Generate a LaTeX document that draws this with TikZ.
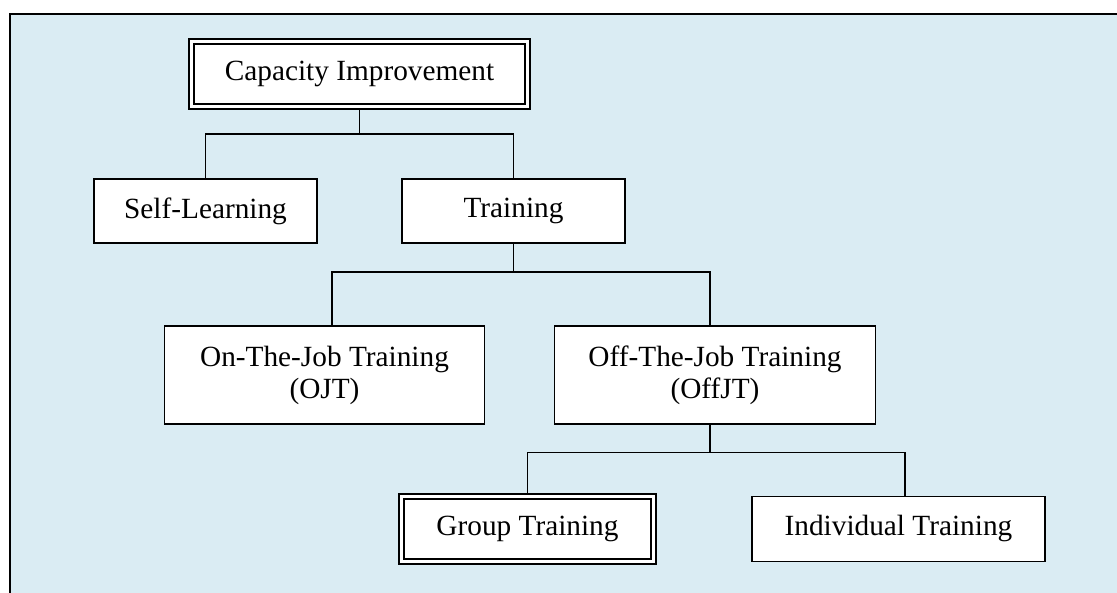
\documentclass[tikz,border=0pt]{standalone}
\usepackage{fontspec}
\setmainfont{Liberation Serif}
\usepackage{tikz}
\usetikzlibrary{positioning}
\definecolor{framebg}{RGB}{218,236,243}

\begin{document}
\begin{tikzpicture}[
  x=1pt,y=-1pt,
  box/.style={rectangle,draw,fill=white,line width=1.6pt,
              inner sep=0pt,outer sep=0pt,
              font=\fontsize{29.3}{32}\selectfont,align=center},
  dbox/.style={box,double,line width=2.3pt,double distance=2.3pt,outer sep=3.45pt},
  conn/.style={line width=1.5pt}
]
\clip (0,0) rectangle (1117,592);
\draw[line width=2.2pt,fill=framebg] (10,14) rectangle (1140,620);

\node[dbox,minimum width=336pt,minimum height=65pt] (cap) at (359.5,74) {Capacity Improvement};
\node[box,minimum width=223pt,minimum height=64pt] (self) [below=69pt of cap,xshift=-154pt] {Self-Learning};
\node[box,minimum width=223pt,minimum height=64pt] (train) [right=85pt of self] {Training};
\node[box,minimum width=320pt,minimum height=98pt] (ojt) [below=83pt of train,xshift=-189pt] {On-The-Job Training\\(OJT)};
\node[box,minimum width=321pt,minimum height=98pt] (offjt) [right=70pt of ojt] {Off-The-Job Training\\(OffJT)};
\node[dbox,minimum width=252pt,minimum height=65pt] (group) [below=69pt of offjt,xshift=-187.5pt] {Group Training};
\node[box,minimum width=293pt,minimum height=65pt] (indiv) [right=95pt of group] {Individual Training};

\draw[conn] (cap.south) -- ++(0,24) -| (self.north);
\draw[conn] (cap.south) -- ++(0,24) -| (train.north);
\draw[conn] (train.south) -- ++(0,29) -| ([xshift=7.5pt]ojt.north);
\draw[conn] (train.south) -- ++(0,29) -| ([xshift=-5pt]offjt.north);
\draw[conn] ([xshift=-5pt]offjt.south) -- ++(0,28.7) -| (group.north);
\draw[conn] ([xshift=-5pt]offjt.south) -- ++(0,28.7) -| ([xshift=6.5pt]indiv.north);
\end{tikzpicture}
\end{document}
